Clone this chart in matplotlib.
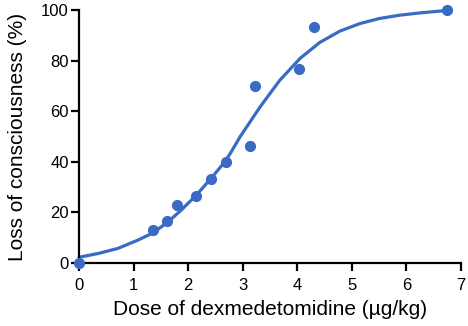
import matplotlib.pyplot as plt

plt.rcParams["font.family"] = ["Liberation Sans", "DejaVu Sans"]

# observed data
dose = [0, 1.35, 1.61, 1.79, 2.14, 2.42, 2.69, 3.13, 3.22, 4.03, 4.30, 6.74]
loc = [0, 13.0, 16.6, 22.9, 26.5, 33.2, 39.9, 46.2, 70.0, 76.7, 93.3, 100]

# fitted curve
curve_x = [0, 0.35, 0.71, 1.08, 1.36, 1.63, 1.87, 2.15, 2.42, 2.67, 2.79,
           2.95, 3.32, 3.68, 4.05, 4.41, 4.78, 5.15, 5.51, 5.88, 6.25, 6.61, 6.73]
curve_y = [2.3, 3.8, 5.8, 9.1, 12.0, 16.3, 20.9, 26.9, 33.5, 40.0, 44.0,
           49.9, 61.8, 72.3, 80.9, 87.2, 91.7, 94.7, 96.7, 98.0, 98.9, 99.6, 99.8]

blue = "#3a6bc4"

fig = plt.figure(figsize=(4.68, 3.26), dpi=100)
ax = fig.add_axes([0.169, 0.193, 0.816, 0.776])

ax.plot(curve_x, curve_y, color=blue, lw=2.3, solid_capstyle="round",
        solid_joinstyle="round", clip_on=False)
ax.scatter(dose, loc, s=65, color=blue, zorder=3, clip_on=False, linewidths=0)

ax.set_xlim(0, 7)
ax.set_ylim(0, 100)
ax.set_xticks(range(0, 8))
ax.set_yticks(range(0, 101, 20))
ax.spines["top"].set_visible(False)
ax.spines["right"].set_visible(False)
for s in ["left", "bottom"]:
    ax.spines[s].set_linewidth(1.6)
ax.tick_params(direction="out", length=6, width=1.6, labelsize=12)
ax.tick_params(axis="x", pad=5)
ax.tick_params(axis="y", pad=1.5)

ax.set_xlabel("Dose of dexmedetomidine (µg/kg)", fontsize=15, labelpad=5)
ax.set_ylabel("Loss of consciousness (%)", fontsize=15, labelpad=10)

fig.savefig("out.png", dpi=100)
